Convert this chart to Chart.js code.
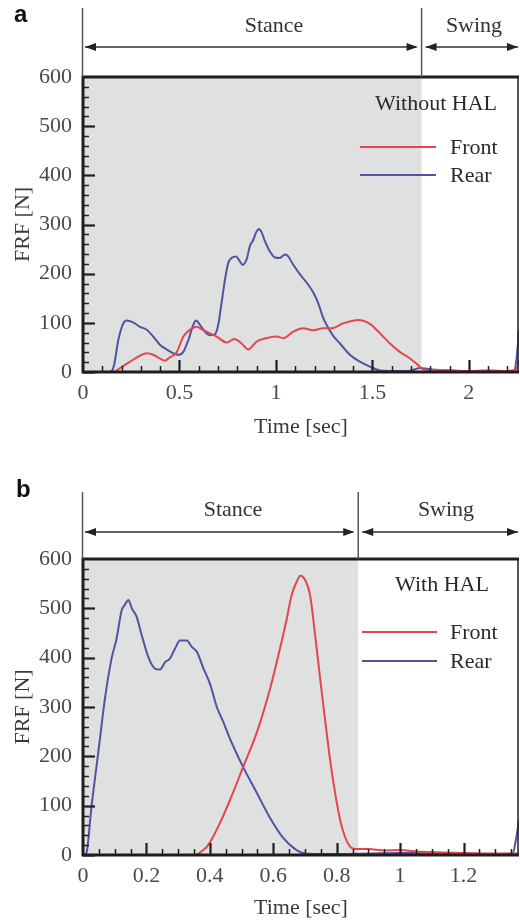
<!DOCTYPE html>
<html><head><meta charset="utf-8">
<script src="https://cdn.jsdelivr.net/npm/chart.js@4.4.1/dist/chart.umd.min.js"></script>
<style>
html,body{margin:0;padding:0;background:#fff;}
#wa{position:absolute;left:0;top:0;width:520px;height:460px;}
#wb{position:absolute;left:0;top:460px;width:520px;height:464px;}
</style></head><body>
<div id="wa"><canvas id="ca"></canvas></div>
<div id="wb"><canvas id="cb"></canvas></div>
<script>
// ---------- DATA ----------
const yTicks = [0, 100, 200, 300, 400, 500, 600];
const seriesNames = ['Front', 'Rear'];

// Panel a: Without HAL
const aXTicks = [0, 0.5, 1, 1.5, 2];
const aXLabels = ['0', '0.5', '1', '1.5', '2'];
const aStanceEnd = 1.755;
const aXMax = 2.26;
const aFrontT = [0, 0.157, 0.192, 0.244, 0.295, 0.33, 0.364, 0.40, 0.425, 0.451, 0.485, 0.52, 0.554, 0.589, 0.615, 0.641, 0.693, 0.744, 0.785, 0.822, 0.857, 0.90, 0.952, 1.003, 1.04, 1.09, 1.141, 1.193, 1.245, 1.288, 1.349, 1.427, 1.487, 1.539, 1.591, 1.642, 1.694, 1.737, 1.764, 1.8, 1.9, 2.0, 2.1, 2.2, 2.245, 2.26];
const aFrontV = [0, 0, 8, 21, 33, 38, 35, 27, 23, 30, 40, 72, 86, 92, 87, 82, 72, 60, 67, 58, 46, 62, 69, 72, 69, 82, 89, 85, 89, 89, 99, 106, 98, 79, 58, 41, 28, 14, 5, 4, 3, 2, 2, 2, 5, 25];
const aRearT = [0, 0.14, 0.16, 0.183, 0.209, 0.226, 0.26, 0.295, 0.33, 0.364, 0.40, 0.433, 0.468, 0.494, 0.52, 0.546, 0.572, 0.586, 0.606, 0.632, 0.658, 0.684, 0.701, 0.718, 0.736, 0.753, 0.77, 0.793, 0.813, 0.827, 0.848, 0.865, 0.883, 0.90, 0.912, 0.926, 0.943, 0.969, 0.995, 1.02, 1.047, 1.064, 1.09, 1.124, 1.159, 1.193, 1.219, 1.245, 1.271, 1.30, 1.332, 1.383, 1.435, 1.487, 1.539, 1.59, 1.69, 1.746, 1.81, 1.9, 2.0, 2.1, 2.2, 2.235, 2.245, 2.255, 2.26];
const aRearV = [0, 0, 12, 65, 99, 105, 101, 92, 86, 72, 55, 46, 38, 35, 41, 65, 96, 105, 96, 82, 75, 77, 96, 140, 188, 222, 232, 235, 225, 218, 229, 256, 269, 286, 291, 284, 266, 245, 233, 232, 239, 235, 218, 199, 182, 162, 140, 110, 90, 72, 58, 35, 21, 11, 3, 2, 2, 8, 5, 3, 2, 3, 2, 3, 20, 60, 86];

// Panel b: With HAL
const bXTicks = [0, 0.2, 0.4, 0.6, 0.8, 1, 1.2];
const bXLabels = ['0', '0.2', '0.4', '0.6', '0.8', '1', '1.2'];
const bStanceEnd = 0.868;
const bXMax = 1.375;
const bFrontT = [0, 0.353, 0.375, 0.395, 0.432, 0.464, 0.506, 0.548, 0.59, 0.621, 0.643, 0.658, 0.674, 0.685, 0.70, 0.716, 0.732, 0.748, 0.763, 0.779, 0.795, 0.811, 0.826, 0.842, 0.858, 0.9, 0.95, 1.0, 1.05, 1.1, 1.2, 1.3, 1.375];
const bFrontV = [0, 0, 8, 20, 65, 112, 180, 248, 337, 418, 480, 527, 554, 566, 558, 527, 446, 357, 276, 194, 126, 71, 37, 17, 12, 12, 9, 10, 7, 6, 4, 3, 3];
const bRearT = [0, 0.005, 0.012, 0.027, 0.048, 0.069, 0.09, 0.106, 0.122, 0.132, 0.143, 0.154, 0.169, 0.185, 0.206, 0.227, 0.243, 0.259, 0.274, 0.29, 0.306, 0.327, 0.343, 0.359, 0.38, 0.401, 0.422, 0.443, 0.464, 0.506, 0.548, 0.59, 0.632, 0.669, 0.70, 0.75, 0.8, 0.9, 1.0, 1.1, 1.2, 1.3, 1.355, 1.365, 1.375];
const bRearV = [0, 0, 7, 99, 207, 316, 398, 439, 496, 507, 517, 500, 483, 446, 401, 378, 376, 391, 398, 418, 435, 435, 422, 412, 378, 346, 300, 269, 235, 177, 126, 75, 34, 12, 3, 2, 2, 3, 4, 4, 3, 2, 3, 30, 70];

// ---------- STYLE ----------
const RED = '#e5454d';
const BLUE = '#5252a0';
const SERIF = '"Liberation Serif", "Times New Roman", serif';

function pts(t, v) { return t.map((x, i) => ({x: x, y: v[i]})); }

function drawArrowHead(ctx, tipX, y, dir) {
  ctx.beginPath();
  ctx.moveTo(tipX, y);
  ctx.lineTo(tipX - dir * 11, y - 4);
  ctx.lineTo(tipX - dir * 11, y + 4);
  ctx.closePath();
  ctx.fill();
}

const framePlugin = {
  id: 'frame',
  beforeDatasetsDraw(chart, args, o) {
    const {ctx, chartArea: ca} = chart;
    const xs = chart.scales.x.getPixelForValue(o.stanceEnd);
    ctx.save();
    ctx.fillStyle = '#dfe0e0';
    ctx.fillRect(ca.left, ca.top, xs - ca.left, ca.bottom - ca.top);
    ctx.restore();
  },
  afterDatasetsDraw(chart, args, o) {
    const {ctx, chartArea: ca} = chart;
    const xS = chart.scales.x, yS = chart.scales.y;
    ctx.save();
    ctx.strokeStyle = '#1e1e1e';
    for (let v = 0; v <= 600 + 1e-9; v += 20) {
      const y = Math.round(yS.getPixelForValue(v)) + 0.5;
      const major = Math.abs(v % 100) < 1e-6;
      if (v === 600) continue;
      ctx.lineWidth = major ? 2.2 : 1.5;
      ctx.beginPath(); ctx.moveTo(ca.left, y); ctx.lineTo(ca.left + (major ? 12 : 6), y); ctx.stroke();
    }
    const n = Math.round(xS.max / o.minorStep);
    for (let i = 0; i <= n; i++) {
      const v = i * o.minorStep;
      const x = Math.round(xS.getPixelForValue(v)) + 0.5;
      const major = o.ticks.some(t => Math.abs(t - v) < 1e-6);
      if (v === 0) continue;
      ctx.lineWidth = major ? 2.2 : 1.5;
      ctx.beginPath(); ctx.moveTo(x, ca.bottom); ctx.lineTo(x, ca.bottom - (major ? 12 : 6)); ctx.stroke();
    }
    ctx.lineWidth = 1.5;
    ctx.beginPath(); ctx.moveTo(ca.right - 1, ca.top); ctx.lineTo(ca.right - 1, ca.bottom); ctx.stroke();
    ctx.lineWidth = 3;
    ctx.beginPath();
    ctx.moveTo(ca.right, ca.top); ctx.lineTo(ca.left, ca.top);
    ctx.lineTo(ca.left, ca.bottom); ctx.lineTo(ca.right, ca.bottom);
    ctx.stroke();
    ctx.restore();
  },
  afterDraw(chart, args, o) {
    const {ctx, chartArea: ca} = chart;
    const xs = chart.scales.x.getPixelForValue(o.stanceEnd);
    ctx.save();
    ctx.fillStyle = '#111';
    ctx.font = 'bold 24px "Liberation Sans", Arial, sans-serif';
    ctx.textAlign = 'left'; ctx.textBaseline = 'alphabetic';
    ctx.fillText(o.letter, o.letterX, o.letterY);
    ctx.strokeStyle = '#555';
    ctx.lineWidth = 1.5;
    ctx.beginPath();
    ctx.moveTo(ca.left - 0.5, o.lineTop); ctx.lineTo(ca.left - 0.5, ca.top);
    ctx.moveTo(xs, o.lineTop); ctx.lineTo(xs, ca.top);
    ctx.stroke();
    ctx.strokeStyle = '#333'; ctx.fillStyle = '#222';
    ctx.lineWidth = 1.3;
    const y = o.arrowY;
    ctx.beginPath();
    ctx.moveTo(ca.left + 2, y); ctx.lineTo(xs - 5, y);
    ctx.moveTo(xs + 4, y); ctx.lineTo(ca.right - 1, y);
    ctx.stroke();
    drawArrowHead(ctx, ca.left + 2, y, -1);
    drawArrowHead(ctx, xs - 4, y, 1);
    drawArrowHead(ctx, xs + 4, y, -1);
    drawArrowHead(ctx, ca.right - 1, y, 1);
    ctx.fillStyle = '#333';
    ctx.font = '22px ' + SERIF;
    ctx.textAlign = 'center'; ctx.textBaseline = 'middle';
    ctx.fillText('Stance', o.stanceX, o.phaseTextY);
    ctx.fillText('Swing', o.swingX, o.phaseTextY);
    ctx.fillStyle = '#2a2a2a';
    ctx.fillText(o.condition, o.condX, o.condY);
    ctx.textAlign = 'left';
    chart.data.datasets.forEach((ds, i) => {
      const ly = o.legendY[i];
      ctx.strokeStyle = ds.borderColor;
      ctx.lineWidth = 2;
      ctx.beginPath(); ctx.moveTo(o.legendX0, ly); ctx.lineTo(o.legendX1, ly); ctx.stroke();
      ctx.fillStyle = '#2a2a2a';
      ctx.fillText(ds.label, o.legendTextX, ly + 1);
    });
    ctx.restore();
  }
};

function makeChart(id, cfg) {
  return new Chart(document.getElementById(id), {
    type: 'line',
    data: {
      datasets: [
        {label: seriesNames[0], data: pts(cfg.frontT, cfg.frontV), borderColor: RED, borderWidth: 2, pointRadius: 0, cubicInterpolationMode: 'monotone', fill: false},
        {label: seriesNames[1], data: pts(cfg.rearT, cfg.rearV), borderColor: BLUE, borderWidth: 2, pointRadius: 0, cubicInterpolationMode: 'monotone', fill: false}
      ]
    },
    options: {
      responsive: true, maintainAspectRatio: false, animation: false, devicePixelRatio: 1,
      layout: {padding: {top: cfg.padTop, right: 1, left: 0, bottom: 0}},
      plugins: {
        legend: {display: false}, tooltip: {enabled: false},
        frame: cfg.frame
      },
      scales: {
        x: {
          type: 'linear', min: 0, max: cfg.xMax,
          grid: {display: false}, border: {display: false},
          afterFit(s) { s.height = cfg.xHeight; },
          afterBuildTicks(s) { s.ticks = cfg.xTicks.map(v => ({value: v})); },
          ticks: {
            autoSkip: false, maxRotation: 0, padding: 0, color: '#4a4a4a',
            font: {family: SERIF, size: 22},
            callback: (v) => { const i = cfg.xTicks.findIndex(t => Math.abs(t - v) < 1e-9); return i >= 0 ? cfg.xLabels[i] : ''; }
          },
          title: {display: true, text: 'Time [sec]', color: '#3a3a3a', font: {family: SERIF, size: 22}, padding: {top: 0, bottom: cfg.xTitlePad}}
        },
        y: {
          min: 0, max: 600,
          grid: {display: false}, border: {display: false},
          afterFit(s) { s.width = 83; },
          afterBuildTicks(s) { s.ticks = yTicks.map(v => ({value: v})); },
          ticks: {padding: 3, color: '#4a4a4a', font: {family: SERIF, size: 22}, callback: (v) => String(v)},
          title: {display: true, text: 'FRF [N]', color: '#3a3a3a', font: {family: SERIF, size: 22}, padding: {top: 10, bottom: 0}}
        }
      }
    },
    plugins: [framePlugin]
  });
}

makeChart('ca', {
  frontT: aFrontT, frontV: aFrontV, rearT: aRearT, rearV: aRearV,
  xMax: aXMax, xTicks: aXTicks, xLabels: aXLabels,
  padTop: 77, xHeight: 88, xTitlePad: 20,
  frame: {
    stanceEnd: aStanceEnd, minorStep: 0.1, ticks: aXTicks,
    letter: 'a', letterX: 14, letterY: 22,
    lineTop: 8, arrowY: 47, phaseTextY: 26, stanceX: 274, swingX: 474,
    condition: 'Without HAL', condX: 436, condY: 104,
    legendY: [147, 175], legendX0: 360, legendX1: 436, legendTextX: 450
  }
});

makeChart('cb', {
  frontT: bFrontT, frontV: bFrontV, rearT: bRearT, rearV: bRearV,
  xMax: bXMax, xTicks: bXTicks, xLabels: bXLabels,
  padTop: 99, xHeight: 69, xTitlePad: 3,
  frame: {
    stanceEnd: bStanceEnd, minorStep: 0.05, ticks: bXTicks,
    letter: 'b', letterX: 16, letterY: 37,
    lineTop: 32, arrowY: 72, phaseTextY: 50, stanceX: 233, swingX: 446,
    condition: 'With HAL', condX: 442, condY: 125,
    legendY: [172, 201], legendX0: 362, legendX1: 437, legendTextX: 450
  }
});
</script>
</body></html>
